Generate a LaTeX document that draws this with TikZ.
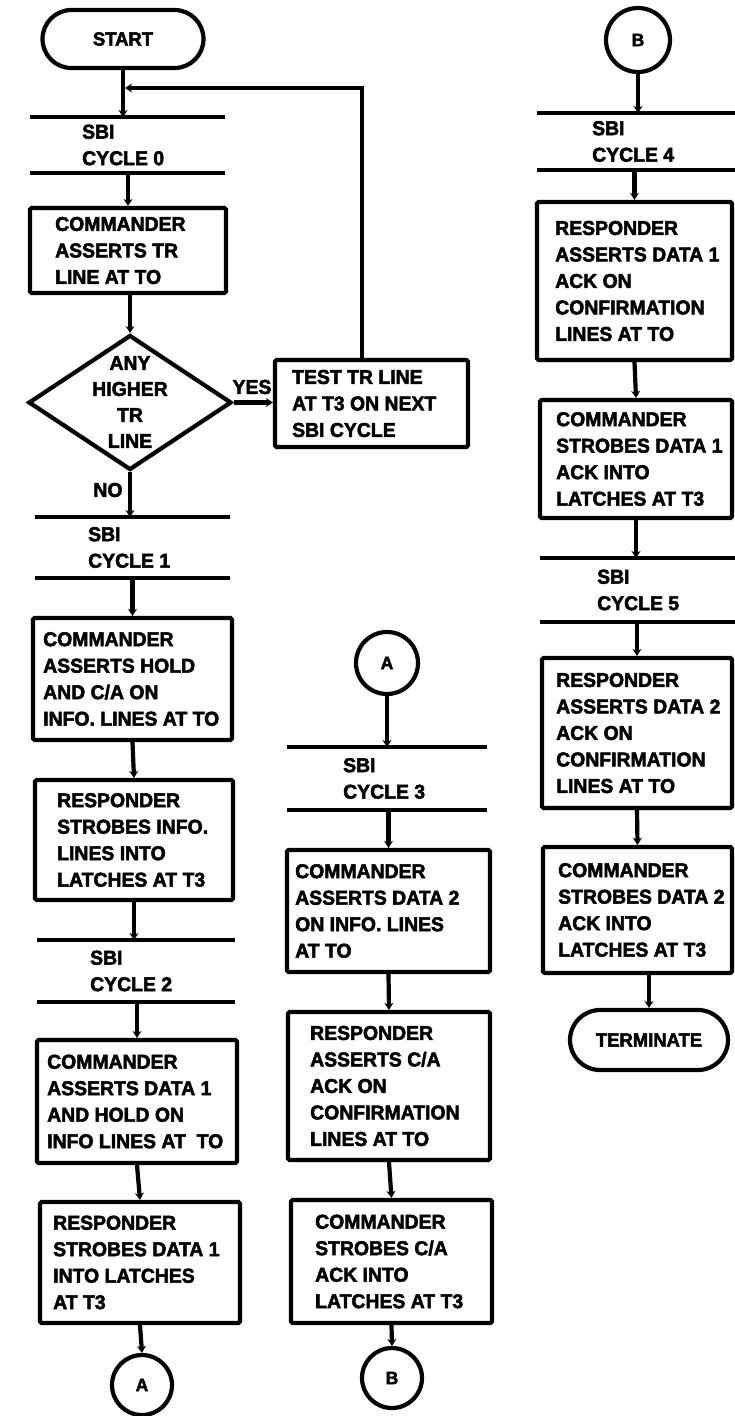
\documentclass[tikz,border=0pt]{standalone}
\usepackage{fontspec}
\setmainfont{Liberation Sans}[BoldFeatures={FakeBold=2.5,FakeStretch=0.97}]
\usetikzlibrary{arrows.meta,shapes.geometric}
\newcommand{\mainf}{\bfseries\fontsize{20}{26.5}\selectfont}
\newcommand{\flowbox}[7]{%
  \node[boxnode, minimum width={#4-#2}, minimum height={#5-#3}] (#1) at ({(#2+#4)/2},{(#3+#5)/2}) {};
  \node[txt] (#1t) at (#6,{(#3+#5)/2}) {#7};
}
\newcommand{\cyclebar}[6]{% name, ytop, ybot, x1, x2, labelx
  \coordinate (#1t) at (#4,#2);
  \coordinate (#1b) at (#4,#3);
  \draw[barline] (#4,#2) -- (#5,#2);
  \draw[barline] (#4,#3) -- (#5,#3);
  \node[txt, align=left] (#1l) at (#6,{(#2+#3)/2}) {SBI\\CYCLE \cyclenum};
}
\tikzset{
  barline/.style={line width=4.5pt},
  arr/.style={line width=4.2pt, -{Stealth[length=7pt,width=9pt]}},
  boxnode/.style={draw, line width=4.2pt, rectangle, inner sep=0pt, rounded corners=1.5pt},
  txt/.style={anchor=west, align=left, inner sep=0pt, font=\mainf},
  conn/.style={draw, circle, line width=4.2pt, minimum size=60pt, inner sep=0pt,
    font=\bfseries\fontsize{18}{18}\selectfont},
  stadium/.style={draw, rectangle, line width=4.2pt, rounded corners=29pt, inner sep=0pt,
    font=\bfseries\fontsize{19}{19}\selectfont},
  lbl/.style={inner sep=0pt, font=\mainf}
}
\begin{document}
\begin{tikzpicture}[x=1pt,y=-1pt]
\useasboundingbox (0,0) rectangle (735,1416);

% ---------------- left column ----------------
\node[stadium, minimum width=161pt, minimum height=58pt] (start) at (123,39) {START};
\def\cyclenum{0}\cyclebar{c0}{117}{173}{30}{225}{82}
\flowbox{b1}{30}{208}{226}{293}{55}{\fontsize{20}{20}\selectfont COMMANDER\\ASSERTS TR\\LINE AT TO}
\node[draw, diamond, line width=4.2pt, minimum width=203pt, minimum height=135pt, inner sep=0pt] (dia) at (130,402.5) {};
\node[lbl, align=center, font=\bfseries\fontsize{20}{26}\selectfont] (diat) at (130,402) {ANY\\HIGHER\\TR\\LINE};
\node[lbl] (yes) at (252,387) {YES};
\node[lbl] (no) at (108,490) {NO};
\flowbox{test}{275}{360}{468}{447}{292}{TEST TR LINE\\AT T3 ON NEXT\\SBI CYCLE}
\coordinate (lp) at (362,88);
\coordinate (lj) at (125,88);
\def\cyclenum{1}\cyclebar{c1}{517}{578}{35}{230}{88}
\flowbox{b2}{33}{618}{232}{740}{43}{COMMANDER\\ASSERTS HOLD\\AND C/A ON\\INFO. LINES AT TO}
\flowbox{b3}{35}{780}{233}{900}{57}{RESPONDER\\STROBES INFO.\\LINES INTO\\LATCHES AT T3}
\def\cyclenum{2}\cyclebar{c2}{940}{1002}{37}{235}{90}
\flowbox{b4}{37}{1040}{237}{1163}{47}{COMMANDER\\ASSERTS DATA 1\\AND HOLD ON\\INFO LINES AT\ \ TO}
\flowbox{b5}{40}{1202}{240}{1323}{53}{RESPONDER\\STROBES DATA 1\\INTO LATCHES\\AT T3}
\node[conn] (ca1) at (142,1385) {A};

\draw[arr] (start.south) -- (start.south |- c0t);
\draw[arr] (test.north -| lp) -- (lp) -- (lj);
\draw[arr] (c0b -| b1.north) -- (b1.north);
\draw[arr] (dia.north |- b1.south) -- (dia.north);
\draw[arr] (dia.east) -- (dia.east -| test.west);
\draw[arr] (dia.south) -- (dia.south |- c1t);
\draw[arr] (c1b -| b2.north) -- (b2.north);
\draw[arr] (b2.south) -- (b3.north);
\draw[arr] (b3.south) -- (b3.south |- c2t);
\draw[arr] (c2b -| b4.north) -- (b4.north);
\draw[arr] (b4.south) -- (b5.north);
\draw[arr] (b5.south) -- (ca1.north);

% ---------------- middle column ----------------
\node[conn, minimum size=62pt] (ca2) at (387,663) {A};
\def\cyclenum{3}\cyclebar{c3}{747}{810}{287}{487}{343}
\flowbox{b6}{287}{850}{490}{972}{295}{COMMANDER\\ASSERTS DATA 2\\ON INFO. LINES\\AT TO}
\flowbox{b7}{288}{1012}{490}{1160}{310}{RESPONDER\\ASSERTS C/A\\ACK ON\\CONFIRMATION\\LINES AT TO}
\flowbox{b8}{291}{1200}{492}{1323}{315}{COMMANDER\\STROBES C/A\\ACK INTO\\LATCHES AT T3}
\node[conn] (cb1) at (392,1378) {B};

\draw[arr] (ca2.south) -- (ca2.south |- c3t);
\draw[arr] (c3b -| b6.north) -- (b6.north);
\draw[arr] (b6.south) -- (b7.north);
\draw[arr] (b7.south) -- (b8.north);
\draw[arr] (b8.south) -- (cb1.north);

% ---------------- right column ----------------
\node[conn, minimum size=64pt] (cb2) at (638,40) {B};
\def\cyclenum{4}\cyclebar{c4}{113}{170}{537}{735}{592}
\flowbox{b9}{537}{202}{732}{360}{555}{RESPONDER\\ASSERTS DATA 1\\ACK ON\\CONFIRMATION\\LINES AT TO}
\flowbox{b10}{540}{400}{732}{518}{556}{COMMANDER\\STROBES DATA 1\\ACK INTO\\LATCHES AT T3}
\def\cyclenum{5}\cyclebar{c5}{558}{622}{540}{735}{597}
\flowbox{b11}{542}{658}{732}{808}{556}{RESPONDER\\ASSERTS DATA 2\\ACK ON\\CONFIRMATION\\LINES AT TO}
\flowbox{b12}{543}{847}{732}{973}{558}{COMMANDER\\STROBES DATA 2\\ACK INTO\\LATCHES AT T3}
\node[stadium, minimum width=158pt, minimum height=60pt, rounded corners=30pt] (term) at (649,1040) {TERMINATE};

\draw[arr] (cb2.south) -- (cb2.south |- c4t);
\draw[arr] (c4b -| b9.north) -- (b9.north);
\draw[arr] (b9.south) -- (b10.north);
\draw[arr] (b10.south) -- (b10.south |- c5t);
\draw[arr] (c5b -| b11.north) -- (b11.north);
\draw[arr] (b11.south) -- (b12.north);
\draw[arr] (term.north |- b12.south) -- (term.north);
\end{tikzpicture}
\end{document}
